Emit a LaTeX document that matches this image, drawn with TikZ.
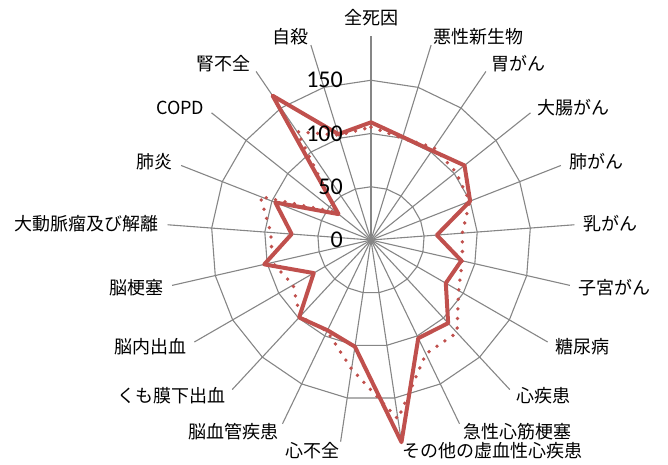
\documentclass[tikz,border=0pt]{standalone}
\usepackage{fontspec}
\setmainfont{Noto Sans CJK JP}
\newfontfamily\numfont{Carlito}

\definecolor{chartred}{RGB}{192,80,77}
\definecolor{gridgray}{RGB}{134,134,134}

\begin{document}
\begin{tikzpicture}[x = 1pt, y = 1pt, % one unit is one pixel
        line join = round,
        font = \fontsize{18}{18}\selectfont % category label size
    ]

    \tikzstyle{ringline}=[draw = gridgray, line width = 1.1pt]
    \tikzstyle{catlabel}=[inner sep = 0pt, text height = 15.8pt, text depth = 2.2pt]
    \tikzstyle{ticklabel}=[inner sep = 0pt, anchor = east, text height = 15.2pt,
    text depth = 0pt, font = \numfont\fontsize{24}{24}\selectfont]
    \tikzstyle{seriesA}=[draw = chartred, line width = 4pt]
    \tikzstyle{seriesB}=[draw = chartred, line width = 3.8pt, line cap = round,
    dash pattern = on 0pt off 9.6pt]

    \def\k{1.065} % pixels per unit
    \def\spoke{204} % spoke length

    \useasboundingbox (-371,-224) rectangle (297,240);
    \coordinate (O) at (0,0);

    % rings at 50, 100, 150
    \foreach \v in {50,100,150} {
        \draw[ringline] ({90}:{\v*\k}) \foreach \i in {1,...,20} { -- ({90-\i*360/21}:{\v*\k}) } -- cycle;
    }

    % spokes and category labels
    \foreach \name [count = \i from 0] in {全死因,悪性新生物,胃がん,大腸がん,肺がん,乳がん,子宮がん,糖尿病,心疾患,急性心筋梗塞,その他の虚血性心疾患,心不全,脳血管疾患,くも膜下出血,脳内出血,脳梗塞,大動脈瘤及び解離,肺炎,COPD,腎不全,自殺} {
        \pgfmathsetmacro{\ang}{90-\i*360/21}
        \coordinate (s\i) at ({\ang}:{\spoke});
        \ifnum\i=0 \def\anc{south}\else\ifnum\i<11 \def\anc{west}\else\def\anc{east}\fi\fi
        \node[catlabel, anchor = \anc] (l\i) at ({\ang}:{\spoke+9}) {\name};
        \draw[ringline] (O) -- (s\i);
    }

    % dotted series
    \foreach \v [count = \i from 0] in {106,100,105,102,99.5,86,88,95,118.7,118.7,170,122.5,95,98,84.5,95,94.4,111.7,41.3,123,103} {
        \coordinate (b\i) at ({90-\i*360/21}:{\v*\k});
    }
    \draw[seriesB] (b0) \foreach \i in {1,...,20} { -- (b\i) } -- cycle;

    % solid series
    \foreach \v [count = \i from 0] in {110.5,101.2,101.6,112.3,100,62,87,81.1,106.5,102.3,192,101.3,94.1,99.2,62.1,102.8,74.7,96.5,39,164,104} {
        \coordinate (a\i) at ({90-\i*360/21}:{\v*\k});
    }
    \draw[seriesA] (a0) \foreach \i in {1,...,20} { -- (a\i) } -- cycle;

    % value axis numbers
    \foreach \v in {0,50,100,150} {
        \node[ticklabel] (t\v) at (-28,{\v*\k}) {\v};
    }
\end{tikzpicture}
\end{document}
